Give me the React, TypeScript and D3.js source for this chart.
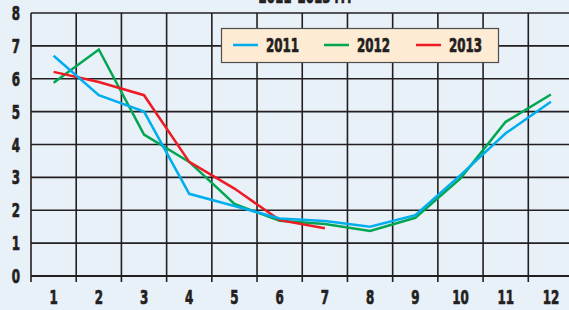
import React, { useRef, useEffect } from "react";
import * as d3 from "d3";

const months = [1, 2, 3, 4, 5, 6, 7, 8, 9, 10, 11, 12];
const yTicks = [0, 1, 2, 3, 4, 5, 6, 7, 8];
const series2011 = [6.7, 5.5, 5.0, 2.5, 2.13, 1.75, 1.67, 1.5, 1.85, 3.07, 4.34, 5.3];
const series2012 = [5.88, 6.89, 4.3, 3.47, 2.19, 1.68, 1.58, 1.37, 1.77, 2.97, 4.69, 5.52];
const series2013 = [6.21, 5.9, 5.5, 3.47, 2.66, 1.7, 1.45];
const seriesNames = ["2011", "2012", "2013"];
const seriesColors = ["#00aeef", "#00a651", "#ed1c24"];
const title = "2011–2013 гг.";

const W = 569;
const H = 310;
const FONT = "'DejaVu Sans Condensed', 'DejaVu Sans', sans-serif";
const SQUEEZE = 0.66;

export default function App() {
    const svgRef = useRef<SVGSVGElement>(null);

    useEffect(() => {
        if (!svgRef.current) return;
        const svg = d3.select(svgRef.current);
        svg.selectAll("*").remove();

        svg.append("rect").attr("width", W).attr("height", H).attr("fill", "#e8f0f8");

        const left = 31, right = 573.5, top = 13, bottom = 276;

        const x = d3.scaleBand<number>().domain(months).range([left, right]);
        const y = d3.scaleLinear().domain([0, 8]).range([bottom, top]);

        // condensed heavy label
        const label = (g: any, tx: number, ty: number, txt: string, anchor = "middle", size = 20) =>
            g.append("text")
                .attr("transform", `translate(${tx},${ty}) scale(${SQUEEZE},1)`)
                .attr("text-anchor", anchor)
                .attr("font-family", FONT)
                .attr("font-weight", "bold")
                .attr("font-size", size)
                .attr("fill", "#231f20")
                .attr("stroke", "#231f20")
                .attr("stroke-width", 0.7)
                .text(txt);

        // title, cut off by the top edge
        label(svg, 305, 3, title, "middle", 20);

        // horizontal grid
        svg.append("g")
            .selectAll("line")
            .data(yTicks)
            .join("line")
            .attr("x1", left)
            .attr("x2", W)
            .attr("y1", d => y(d))
            .attr("y2", d => y(d))
            .attr("stroke", "#231f20")
            .attr("stroke-width", d => (d === 0 ? 2 : 1.6));

        // vertical grid + ticks below axis
        const bounds = months.map(m => x(m)!);
        svg.append("g")
            .selectAll("line")
            .data(bounds)
            .join("line")
            .attr("x1", d => d)
            .attr("x2", d => d)
            .attr("y1", top)
            .attr("y2", bottom + 6)
            .attr("stroke", "#231f20")
            .attr("stroke-width", 1.6);

        // y labels
        const yg = svg.append("g");
        yTicks.forEach(d => label(yg, 16, y(d) + 7, String(d)));

        // x labels
        const xg = svg.append("g");
        months.forEach(d => label(xg, x(d)! + x.bandwidth() / 2, 303.5, String(d)));

        // lines
        const allSeries = [series2011, series2012, series2013];
        const line = d3.line<number>()
            .x((_, i) => x(months[i])! + x.bandwidth() / 2)
            .y(d => y(d));

        [1, 2, 0].forEach(k => {
            svg.append("path")
                .datum(allSeries[k])
                .attr("fill", "none")
                .attr("stroke", seriesColors[k])
                .attr("stroke-width", 2.5)
                .attr("stroke-linejoin", "miter")
                .attr("d", line);
        });

        // legend
        const lg = svg.append("g");
        lg.append("rect")
            .attr("x", 221.5)
            .attr("y", 28.5)
            .attr("width", 277)
            .attr("height", 34)
            .attr("fill", "#fdebd3")
            .attr("stroke", "#4d4d4f")
            .attr("stroke-width", 1.2);

        const legendX = [233, 324, 416];
        seriesNames.forEach((name, i) => {
            lg.append("line")
                .attr("x1", legendX[i])
                .attr("x2", legendX[i] + 25)
                .attr("y1", 45)
                .attr("y2", 45)
                .attr("stroke", seriesColors[i])
                .attr("stroke-width", 2.5);
            label(lg, legendX[i] + 33, 52, name, "start");
        });
    }, []);

    return (
        <svg
            ref={svgRef}
            width={W}
            height={H}
            style={{ position: "absolute", left: 0, top: 0, display: "block" }}
        />
    );
}
